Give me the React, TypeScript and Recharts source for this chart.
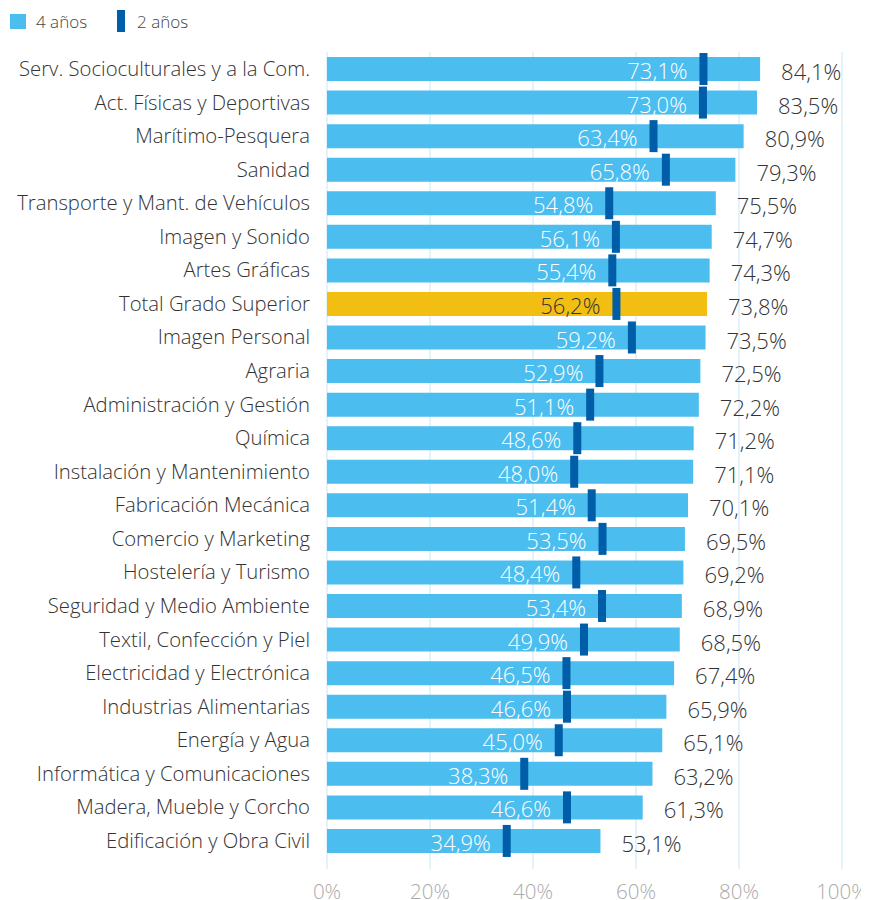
import React from 'react';
import { ComposedChart, Bar, XAxis, YAxis, CartesianGrid, Cell, LabelList, Legend } from 'recharts';

const categories = [
  'Serv. Socioculturales y a la Com.',
  'Act. Físicas y Deportivas',
  'Marítimo-Pesquera',
  'Sanidad',
  'Transporte y Mant. de Vehículos',
  'Imagen y Sonido',
  'Artes Gráficas',
  'Total Grado Superior',
  'Imagen Personal',
  'Agraria',
  'Administración y Gestión',
  'Química',
  'Instalación y Mantenimiento',
  'Fabricación Mecánica',
  'Comercio y Marketing',
  'Hostelería y Turismo',
  'Seguridad y Medio Ambiente',
  'Textil, Confección y Piel',
  'Electricidad y Electrónica',
  'Industrias Alimentarias',
  'Energía y Agua',
  'Informática y Comunicaciones',
  'Madera, Mueble y Corcho',
  'Edificación y Obra Civil',
];

const cuatroAnos = [84.1, 83.5, 80.9, 79.3, 75.5, 74.7, 74.3, 73.8, 73.5, 72.5, 72.2, 71.2, 71.1, 70.1, 69.5, 69.2, 68.9, 68.5, 67.4, 65.9, 65.1, 63.2, 61.3, 53.1];
const dosAnos = [73.1, 73.0, 63.4, 65.8, 54.8, 56.1, 55.4, 56.2, 59.2, 52.9, 51.1, 48.6, 48.0, 51.4, 53.5, 48.4, 53.4, 49.9, 46.5, 46.6, 45.0, 38.3, 46.6, 34.9];
const xTicks = [0, 20, 40, 60, 80, 100];
const totalName = 'Total Grado Superior';

const data = categories.map((name, i) => ({ name, cuatro: cuatroAnos[i], dos: dosAnos[i] }));

const FONT = '"Open Sans", sans-serif';
const LIGHT = '#4BBDEF';
const DARK = '#005EA8';
const GOLD = '#F2BE12';

const fmt = (v: number) => v.toFixed(1).replace('.', ',') + '%';

const Marker = (props: any) => {
  const { x, y, width, height } = props;
  return <rect x={x + width - 4} y={y} width={8} height={height} fill={DARK} />;
};

const OuterLabel = (props: any) => {
  const { x, y, width, height, value } = props;
  return (
    <text x={x + width + 21} y={y + height / 2 + 2} fill="#333" fontSize={22} fontWeight={300} fontFamily={FONT} dominantBaseline="central">
      {fmt(value)}
    </text>
  );
};

const InnerLabel = (props: any) => {
  const { x, y, width, height, value, index } = props;
  const isTotal = data[index] && data[index].name === totalName;
  return (
    <text x={x + width - 16} y={y + height / 2 + 1} fill={isTotal ? '#333' : '#fff'} fontSize={22} fontWeight={300} fontFamily={FONT} textAnchor="end" dominantBaseline="central">
      {fmt(value)}
    </text>
  );
};

const LegendContent = () => (
  <div style={{ display: 'flex', alignItems: 'center', height: 26, paddingLeft: 2, fontFamily: FONT, fontSize: 17, fontWeight: 300, color: '#444' }}>
    <span style={{ display: 'inline-block', width: 16, height: 15, background: LIGHT, marginRight: 10 }} />
    <span style={{ marginRight: 30 }}>4 años</span>
    <span style={{ display: 'inline-block', width: 8, height: 22, background: DARK, marginRight: 12 }} />
    <span>2 años</span>
  </div>
);

export default function App() {
  return (
    <ComposedChart
      width={861}
      height={892}
      data={data}
      layout="vertical"
      margin={{ top: 0, right: 27, bottom: 0, left: 0 }}
    >
      <Legend verticalAlign="top" align="left" content={<LegendContent />} wrapperStyle={{ height: 44 }} />
      <CartesianGrid horizontal={false} stroke="#c8e7f6" strokeWidth={1} />
      <XAxis
        type="number"
        domain={[0, 100]}
        ticks={xTicks}
        tickFormatter={(v: number) => v + '%'}
        axisLine={false}
        tickLine={false}
        tickSize={0}
        tickMargin={15}
        height={31}
        tick={{ fill: '#aaa', fontSize: 20.5, fontWeight: 300, fontFamily: FONT }}
        interval={0}
      />
      <YAxis
        type="category"
        dataKey="name"
        width={319}
        axisLine={false}
        tickLine={false}
        tickSize={0}
        tickMargin={17}
        interval={0}
        padding={{ top: 0, bottom: 11.5 }}
        tick={{ fill: '#333', fontSize: 20.3, fontWeight: 300, fontFamily: FONT }}
      />
      <YAxis yAxisId="m" type="category" dataKey="name" hide padding={{ top: 0, bottom: 11.5 }} />
      <Bar dataKey="cuatro" barSize={24} fill={LIGHT} isAnimationActive={false}>
        {data.map((d) => (
          <Cell key={d.name} fill={d.name === totalName ? GOLD : LIGHT} />
        ))}
        <LabelList dataKey="cuatro" content={<OuterLabel />} />
      </Bar>
      <Bar dataKey="dos" yAxisId="m" barSize={32} shape={<Marker />} isAnimationActive={false}>
        <LabelList dataKey="dos" content={<InnerLabel />} />
      </Bar>
    </ComposedChart>
  );
}
